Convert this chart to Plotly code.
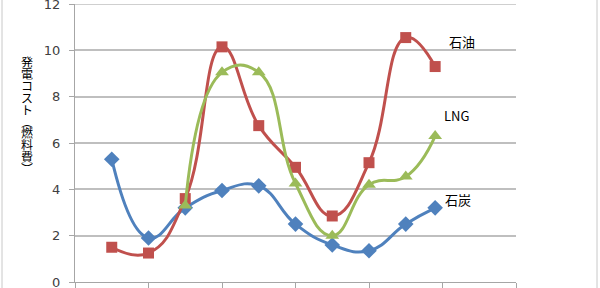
import plotly.graph_objects as go

x_vals = [1, 2, 3, 4, 5, 6, 7, 8, 9, 9.8]
coal = [5.3, 1.9, 3.2, 3.95, 4.15, 2.5, 1.6, 1.35, 2.5, 3.2]
oil = [1.5, 1.25, 3.6, 10.15, 6.75, 4.95, 2.85, 5.15, 10.55, 9.3]
lng = [None, None, 3.3, 9.05, 9.05, 4.25, 2.0, 4.2, 4.55, 6.3]
series_names = ["石炭", "石油", "LNG"]
y_title = "発電コスト︵燃料費︶"
y_ticks = [0, 2, 4, 6, 8, 10, 12]

BLUE = "#4F81BD"
RED = "#C0504D"
GREEN = "#9BBB59"

W, H = 600, 288
L, R, T, B = 75, 84, 4, 6
pw, ph = W - L - R, H - T - B

fig = go.Figure()
fig.add_trace(go.Scatter(x=x_vals, y=coal, name=series_names[0], mode="lines+markers",
                         line=dict(color=BLUE, width=3, shape="spline", smoothing=1.3),
                         marker=dict(symbol="diamond", size=12, color=BLUE)))
fig.add_trace(go.Scatter(x=x_vals, y=oil, name=series_names[1], mode="lines+markers",
                         line=dict(color=RED, width=3, shape="spline", smoothing=1.3),
                         marker=dict(symbol="square", size=11, color=RED)))
fig.add_trace(go.Scatter(x=x_vals, y=lng, name=series_names[2], mode="lines+markers",
                         line=dict(color=GREEN, width=3, shape="spline", smoothing=1.3),
                         marker=dict(symbol="triangle-up", size=12, color=GREEN),
                         connectgaps=False))

# series labels
label_pos = [(10.0, 3.55), (10.12, 10.38), (9.99, 7.18)]
for name, (lx, ly) in zip(series_names, label_pos):
    fig.add_annotation(x=lx, y=ly, text=name, showarrow=False, xanchor="left", yanchor="middle",
                       font=dict(family="Noto Sans CJK JP, DejaVu Sans", size=13, color="#000000"))

# vertical y-axis title (upright stacked characters)
for i, ch in enumerate(y_title):
    yc = 62 + i * 11.9
    fig.add_annotation(xref="paper", yref="paper", x=(27 - L) / pw, y=(H - B - yc) / ph,
                       text=ch, showarrow=False, xanchor="center", yanchor="middle",
                       height=11.5, borderpad=0,
                       font=dict(family="Noto Sans CJK JP", size=12, color="#000000"))

# chart border lines
for px in (2, 597):
    fig.add_shape(type="line", xref="paper", yref="paper",
                  x0=(px - L) / pw, x1=(px - L) / pw, y0=-0.2, y1=1.2,
                  line=dict(color="#C8C8C8", width=1))

# top gridline (plotly drops gridlines at the range ends)
fig.add_shape(type="line", xref="paper", yref="y", x0=0, x1=1, y0=y_ticks[-1], y1=y_ticks[-1],
              line=dict(color="#BFBFBF", width=1.5), layer="below")

fig.update_layout(
    width=W, height=H,
    margin=dict(l=L, r=R, t=T, b=B, autoexpand=False),
    paper_bgcolor="white", plot_bgcolor="white",
    showlegend=False,
    xaxis=dict(range=[0, 12], dtick=2, tick0=0, showticklabels=False, showgrid=False,
               zeroline=False, showline=True, linecolor="#A6A6A6", linewidth=1,
               ticks="outside", ticklen=5, tickcolor="#A6A6A6", automargin=False),
    yaxis=dict(range=[0, 12], tickvals=y_ticks, showgrid=True, gridcolor="#BFBFBF", gridwidth=1.5,
               zeroline=False, showline=True, linecolor="#A6A6A6", linewidth=1,
               ticks="outside", ticklen=5, tickcolor="#A6A6A6", ticklabeloverflow="allow",
               ticklabelstandoff=6, automargin=False,
               tickfont=dict(family="DejaVu Sans", size=13, color="#404040")),
)

fig.write_html("out.html")
